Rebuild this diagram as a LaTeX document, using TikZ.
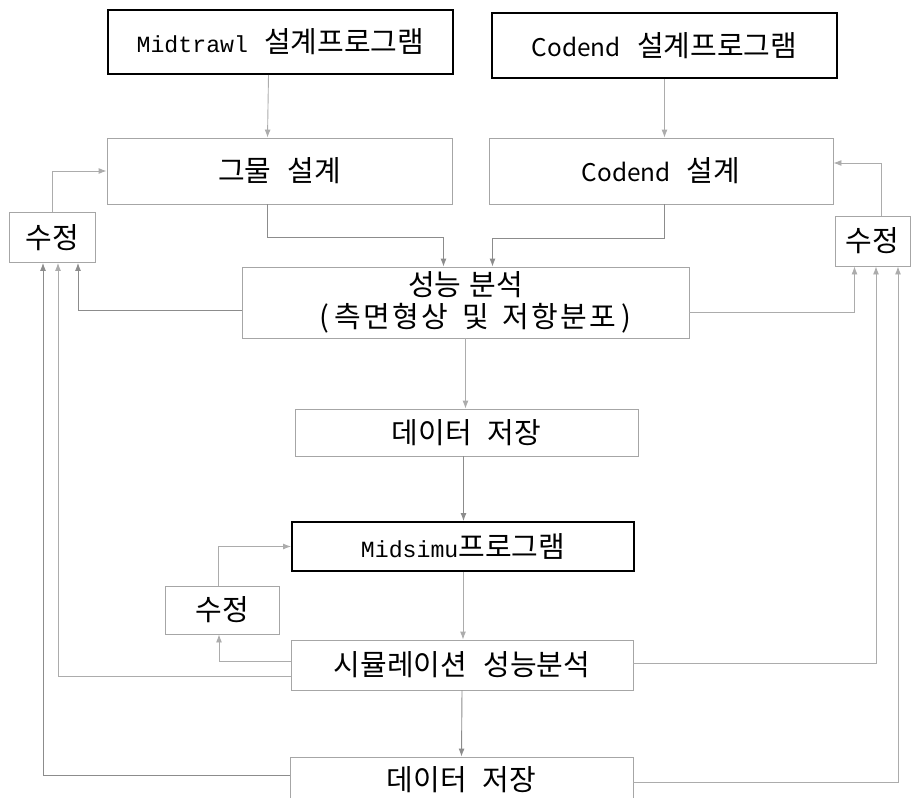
\documentclass[tikz,border=0pt]{standalone}
\usepackage{fontspec}
\setmainfont{Noto Sans CJK KR}[WordSpace=2.5]
\newfontfamily\monofont{Liberation Mono}[Scale=0.8]
\newfontfamily\latinfont{Noto Sans CJK KR}[Scale=0.84]
\usepackage{tikz}
\usetikzlibrary{positioning, arrows.meta}

\begin{document}
\begin{tikzpicture}[
    x=1pt, y=-1pt,
    stepbox/.style={rectangle, draw=gray!70, line width=0.9pt, text centered, font=\fontsize{29}{29}\selectfont},
    progbox/.style={stepbox, draw=black, line width=2pt},
    fixbox/.style={stepbox, minimum width=86pt, minimum height=50pt},
    arr/.style={-{Latex[length=8pt,width=6pt]}, draw=gray!65, line width=0.9pt},
    darr/.style={arr, draw=gray!90}
]
\useasboundingbox (0,0) rectangle (911,798);

% Design programs
\node[progbox, minimum width=345pt, minimum height=64pt] (mtprog) at (280.5,42) {{\monofont Midtrawl} 설계프로그램};
\node[progbox, minimum width=345pt, minimum height=65pt] (cdprog) at (664.5,45.5) {{\latinfont Codend} 설계프로그램};

% Design steps
\node[stepbox, minimum width=345pt, minimum height=66pt] (netdes) at (279.5,171) {그물 설계};
\node[stepbox, minimum width=344pt, minimum height=66pt] (cddes) at (661,171) {{\latinfont Codend} 설계};
\node[stepbox, minimum width=447pt, minimum height=71pt, align=center, inner sep=2pt] (perf) at (465.5,302.5) {성능\hspace{8pt}분석\\[3pt]\hspace{20pt}{\addfontfeature{LetterSpace=8}(\,측면형상\hspace{14pt}및\hspace{14pt}저항분포\,)}};
\node[stepbox, minimum width=343pt, minimum height=47pt] (save1) at (466.5,432.5) {데이터 저장};
\node[progbox, minimum width=342pt, minimum height=49pt] (simu) at (463,546.5) {{\monofont Midsimu}프로그램};
\node[stepbox, minimum width=342pt, minimum height=50pt] (simperf) at (462,665) {시뮬레이션 성능분석};
\node[stepbox, minimum width=343pt, minimum height=46pt] (save2) at (461.5,780) {데이터 저장};

% Correction boxes
\node[fixbox] (fixL) at (52.5,237.5) {수정};
\node[fixbox, minimum width=75pt] (fixR) at (872.5,241) {수정};
\node[fixbox, minimum width=114pt, minimum height=48pt] (fixM) at (222,610) {수정};

% Main flow
\draw[arr] ([xshift=-12pt]mtprog.south) -- ([xshift=-12pt]netdes.north);
\draw[arr] (cdprog.south) -- (cdprog.south |- cddes.north);
\draw[darr] ([xshift=-12pt]netdes.south) -- ++(0,33) -| ([xshift=-22pt]perf.north);
\draw[darr] ([xshift=3pt]cddes.south) -- ++(0,34) -| ([xshift=27pt]perf.north);
\draw[arr] (perf.south) -- (perf.south |- save1.north);
\draw[darr] ([xshift=-3pt]save1.south) -- ([xshift=-3pt]save1.south |- simu.north);
\draw[arr] (simu.south) -- (simu.south |- simperf.north);
\draw[darr] (simperf.south) -- (save2.north);

% Correction loops
\draw[arr] (fixL.north) |- (netdes.west);
\draw[arr] ([xshift=9pt]fixR.north) |- ([yshift=8pt]cddes.east);
\draw[arr] ([xshift=-4pt]fixM.north) |- (simu.west);
\draw[arr] ([yshift=4pt]simperf.west) -| ([xshift=-3pt]fixM.south);

% Feedback to corrections
\draw[darr] ([yshift=-8pt]perf.west) -| ([xshift=25.5pt]fixL.south);
\draw[arr] ([yshift=-11pt]simperf.west) -| ([xshift=5.5pt]fixL.south);
\draw[darr] ([yshift=5pt]save2.west) -| ([xshift=-9.5pt]fixL.south);
\draw[arr] ([yshift=-10pt]perf.east) -| ([xshift=-18pt]fixR.south);
\draw[arr] ([yshift=2pt]simperf.east) -| ([xshift=3.5pt]fixR.south);
\draw[arr] ([yshift=-2pt]save2.east) -| ([xshift=25.5pt]fixR.south);

\end{tikzpicture}
\end{document}
